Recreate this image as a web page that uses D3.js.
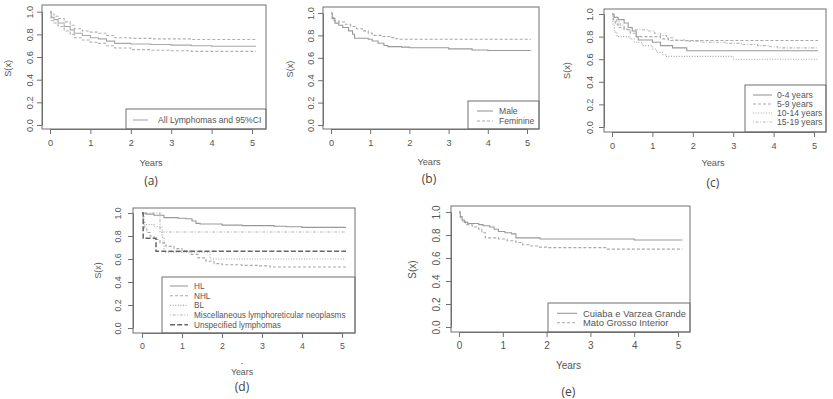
<!DOCTYPE html>
<html>
<head>
<meta charset="utf-8">
<script src="https://cdn.jsdelivr.net/npm/d3@7"></script>
<style>
  body { margin: 0; background: #fff; }
  svg { display: block; font-family: "Liberation Sans", Arial, sans-serif; }
</style>
</head>
<body>
<svg width="833" height="399"></svg>
<script>
// ---- data ----
const xTicks = [0, 1, 2, 3, 4, 5];
const yTicks = [0, 0.2, 0.4, 0.6, 0.8, 1.0];
const xLabel = 'Years';
const yLabel = 'S(x)';

// (a) all lymphomas with 95% CI
const allTime  = [0, 0.03, 0.1, 0.2, 0.35, 0.5, 0.6, 0.8, 1.0, 1.2, 1.4, 1.6, 2.0, 2.5, 3.0, 3.5, 4.0, 5.1];
const allSurv  = [1.0, 0.95, 0.93, 0.90, 0.87, 0.84, 0.81, 0.79, 0.77, 0.76, 0.74, 0.72, 0.715, 0.71, 0.705, 0.70, 0.695, 0.695];
const allUpper = [1.0, 0.98, 0.96, 0.94, 0.91, 0.88, 0.85, 0.83, 0.82, 0.81, 0.79, 0.77, 0.765, 0.76, 0.76, 0.755, 0.755, 0.755];
const allLower = [1.0, 0.92, 0.90, 0.87, 0.83, 0.80, 0.77, 0.75, 0.73, 0.72, 0.70, 0.68, 0.665, 0.66, 0.655, 0.65, 0.65, 0.65];

// (b) sex
const maleTime = [0, 0.03, 0.1, 0.2, 0.3, 0.45, 0.55, 0.6, 0.95, 1.05, 1.2, 1.35, 1.45, 1.8, 2.0, 3.0, 3.6, 4.0, 5.1];
const maleSurv = [1.0, 0.95, 0.91, 0.89, 0.87, 0.84, 0.81, 0.775, 0.765, 0.75, 0.73, 0.71, 0.70, 0.695, 0.69, 0.68, 0.67, 0.665, 0.665];
const femTime  = [0, 0.03, 0.08, 0.2, 0.35, 0.5, 0.65, 0.8, 0.95, 1.05, 1.3, 1.5, 1.65, 1.75, 5.1];
const femSurv  = [1.0, 0.96, 0.93, 0.92, 0.90, 0.88, 0.86, 0.84, 0.82, 0.80, 0.79, 0.78, 0.77, 0.765, 0.765];

// (c) age groups
const age04Time  = [0, 0.05, 0.15, 0.3, 0.4, 0.5, 0.6, 0.65, 1.0, 1.2, 1.5, 1.85, 5.1];
const age04Surv  = [1.0, 0.97, 0.95, 0.92, 0.88, 0.85, 0.80, 0.77, 0.75, 0.72, 0.70, 0.675, 0.675];
const age59Time  = [0, 0.03, 0.08, 0.15, 0.3, 0.45, 0.6, 1.2, 1.4, 5.1];
const age59Surv  = [1.0, 0.95, 0.91, 0.88, 0.86, 0.83, 0.80, 0.78, 0.765, 0.765];
const age1014Time = [0, 0.02, 0.06, 0.12, 0.45, 0.55, 0.75, 1.0, 1.1, 1.25, 1.35, 3.0, 5.1];
const age1014Surv = [1.0, 0.90, 0.84, 0.80, 0.78, 0.75, 0.72, 0.69, 0.66, 0.64, 0.625, 0.60, 0.60];
const age1519Time = [0, 0.05, 0.12, 0.2, 0.3, 0.4, 0.9, 1.05, 1.2, 1.35, 1.5, 1.8, 2.2, 2.8, 3.2, 3.6, 3.9, 4.1, 5.1];
const age1519Surv = [1.0, 0.97, 0.93, 0.90, 0.87, 0.86, 0.85, 0.83, 0.81, 0.79, 0.77, 0.76, 0.75, 0.74, 0.73, 0.72, 0.71, 0.70, 0.70];

// (d) diagnostic groups
const hlTime   = [0, 0.1, 0.3, 0.55, 0.9, 1.1, 1.25, 1.35, 1.45, 2.0, 2.5, 3.3, 3.6, 4.0, 5.1];
const hlSurv   = [1.0, 0.99, 0.98, 0.96, 0.955, 0.95, 0.93, 0.91, 0.905, 0.895, 0.89, 0.885, 0.88, 0.875, 0.875];
const nhlTime  = [0, 0.03, 0.07, 0.12, 0.2, 0.3, 0.45, 0.6, 0.8, 1.0, 1.2, 1.4, 1.6, 1.8, 2.0, 2.5, 2.9, 3.2, 5.1];
const nhlSurv  = [1.0, 0.92, 0.87, 0.83, 0.80, 0.77, 0.74, 0.71, 0.69, 0.67, 0.64, 0.61, 0.58, 0.56, 0.55, 0.545, 0.54, 0.53, 0.53];
const blTime   = [0, 0.05, 0.3, 0.5, 0.55, 1.7, 5.1];
const blSurv   = [1.0, 0.90, 0.88, 0.79, 0.66, 0.60, 0.60];
const miscTime = [0, 0.45, 5.1];
const miscSurv = [1.0, 0.835, 0.835];
const unspTime = [0, 0.03, 0.35, 5.1];
const unspSurv = [1.0, 0.78, 0.667, 0.667];

// (e) region
const cuiTime  = [0, 0.03, 0.07, 0.12, 0.2, 0.45, 0.55, 0.7, 0.8, 0.9, 1.05, 1.2, 1.3, 1.85, 4.0, 5.1];
const cuiSurv  = [1.0, 0.96, 0.93, 0.91, 0.90, 0.89, 0.88, 0.87, 0.85, 0.83, 0.82, 0.81, 0.775, 0.765, 0.757, 0.757];
const matoTime = [0, 0.03, 0.08, 0.15, 0.3, 0.45, 0.52, 0.6, 0.9, 1.1, 1.3, 1.45, 1.6, 1.8, 2.0, 3.35, 5.1];
const matoSurv = [1.0, 0.95, 0.92, 0.89, 0.87, 0.85, 0.82, 0.775, 0.765, 0.75, 0.735, 0.715, 0.705, 0.695, 0.69, 0.677, 0.677];

// ---- line styles (R lty 1..5) ----
const LTY = { solid: null, dashed: '3,2', dotted: '1,1.6', dotdash: '1,1.6,3,1.6', longdash: '5,2.2' };
const TEXT = '#555';
const AXIS = '#707070';

const panels = [
  { tag: '(a)', box: [42, 5, 266, 129], x0: 50, x5: 252, y0: 125, y1: 11.7, yOff: 12, yLabX: 8,
    tagY: 181, titleY: 163, font: 8.6,
    series: [
      { t: allTime, s: allSurv, lty: 'solid', col: '#a8a8a8' },
      { t: allTime, s: allUpper, lty: 'dashed', col: '#b0b0b0' },
      { t: allTime, s: allLower, lty: 'dashed', col: '#b0b0b0' }
    ],
    legend: { box: [126, 109, 266, 129], lx: [133, 148], tx: 158, rows: [120],
      items: [{ name: 'All Lymphomas and 95%CI', lty: 'solid', col: '#a8a8a8' }] } },
  { tag: '(b)', box: [323, 7, 539, 129], x0: 331, x5: 527, y0: 125, y1: 13, yOff: 12, yLabX: 290,
    tagY: 179, titleY: 162, font: 8.6,
    series: [
      { t: maleTime, s: maleSurv, lty: 'solid', col: '#999' },
      { t: femTime, s: femSurv, lty: 'dashed', col: '#a8a8a8' }
    ],
    legend: { box: [468, 101, 539, 129], lx: [477, 493], tx: 499, rows: [111, 121],
      items: [{ name: 'Male', lty: 'solid', col: '#999' }, { name: 'Feminine', lty: 'dashed', col: '#a8a8a8' }] } },
  { tag: '(c)', box: [604, 9, 826, 132], x0: 612, x5: 814, y0: 127, y1: 14, yOff: 14, yLabX: 567,
    tagY: 183, titleY: 163, font: 8.6,
    series: [
      { t: age04Time, s: age04Surv, lty: 'solid', col: '#999' },
      { t: age59Time, s: age59Surv, lty: 'dashed', col: '#a8a8a8' },
      { t: age1014Time, s: age1014Surv, lty: 'dotted', col: '#a8a8a8' },
      { t: age1519Time, s: age1519Surv, lty: 'dotdash', col: '#b5b5b5' }
    ],
    legend: { box: [745, 85, 826, 132], lx: [753, 772], tx: 777, rows: [95, 104, 113, 122],
      items: [{ name: '0-4 years', lty: 'solid', col: '#999' }, { name: '5-9 years', lty: 'dashed', col: '#a8a8a8' },
              { name: '10-14 years', lty: 'dotted', col: '#a8a8a8' }, { name: '15-19 years', lty: 'dotdash', col: '#b5b5b5' }] } },
  { tag: '(d)', box: [133, 208, 355, 333], x0: 142, x5: 342, y0: 328, y1: 213, yOff: 15, yLabX: 98,
    tagY: 387, titleY: 372, font: 8.2, dash: true,
    series: [
      { t: hlTime, s: hlSurv, lty: 'solid', col: '#999' },
      { t: nhlTime, s: nhlSurv, lty: 'dashed', col: '#a8a8a8' },
      { t: blTime, s: blSurv, lty: 'dotted', col: '#a8a8a8' },
      { t: miscTime, s: miscSurv, lty: 'dotdash', col: '#b5b5b5' },
      { t: unspTime, s: unspSurv, lty: 'longdash', col: '#666', w: 1.5 }
    ],
    legend: { box: [162, 277, 355, 333], lx: [170, 188], tx: 194, rows: [286, 295.7, 305.4, 315, 324.7],
      items: [{ name: 'HL', lty: 'solid', col: '#999' }, { name: 'NHL', lty: 'dashed', col: '#a8a8a8' },
              { name: 'BL', lty: 'dotted', col: '#a8a8a8' },
              { name: 'Miscellaneous lymphoreticular neoplasms', lty: 'dotdash', col: '#b5b5b5' },
              { name: 'Unspecified lymphomas', lty: 'longdash', col: '#666', w: 1.5 }] } },
  { tag: '(e)', box: [451, 206, 690, 332], x0: 459, x5: 678, y0: 327, y1: 212, yOff: 15, yLabX: 412,
    tagY: 392, titleY: 365, font: 9.4,
    series: [
      { t: cuiTime, s: cuiSurv, lty: 'solid', col: '#999' },
      { t: matoTime, s: matoSurv, lty: 'dashed', col: '#a8a8a8' }
    ],
    legend: { box: [548, 303, 690, 332], lx: [557, 577], tx: 583, rows: [313.3, 322.7],
      items: [{ name: 'Cuiaba e Varzea Grande', lty: 'solid', col: '#999' }, { name: 'Mato Grosso Interior', lty: 'dashed', col: '#a8a8a8' }] } }
];

const svg = d3.select('svg');
panels.forEach(drawPanel);

function drawPanel(p) {
  const g = svg.append('g');
  const x = d3.scaleLinear().domain([0, 5]).range([p.x0, p.x5]);
  const y = d3.scaleLinear().domain([0, 1]).range([p.y0, p.y1]);
  const [bx0, by0, bx1, by1] = p.box;

  const line = d3.line()
    .x(d => x(d[0]))
    .y(d => y(d[1]))
    .curve(d3.curveStepAfter);

  // survival curves
  p.series.forEach(s => {
    g.append('path')
      .datum(d3.zip(s.t, s.s))
      .attr('d', line)
      .attr('fill', 'none')
      .attr('stroke', s.col)
      .attr('stroke-width', s.w || 1.1)
      .attr('stroke-dasharray', LTY[s.lty]);
  });

  // legend (bottom right, drawn over the curves)
  const lg = p.legend;
  g.append('rect')
    .attr('x', lg.box[0]).attr('y', lg.box[1])
    .attr('width', lg.box[2] - lg.box[0]).attr('height', lg.box[3] - lg.box[1])
    .attr('fill', '#fff').attr('stroke', AXIS);
  lg.items.forEach((it, i) => {
    g.append('line')
      .attr('x1', lg.lx[0]).attr('x2', lg.lx[1])
      .attr('y1', lg.rows[i]).attr('y2', lg.rows[i])
      .attr('stroke', it.col).attr('stroke-width', it.w || 1.1)
      .attr('stroke-dasharray', LTY[it.lty]);
    g.append('text')
      .attr('x', lg.tx).attr('y', lg.rows[i])
      .attr('dy', '0.35em')
      .attr('font-size', p.font)
      .attr('fill', TEXT)
      .text(it.name);
  });

  // plot box
  g.append('rect')
    .attr('x', bx0).attr('y', by0)
    .attr('width', bx1 - bx0).attr('height', by1 - by0)
    .attr('fill', 'none').attr('stroke', AXIS);

  // x axis
  const xa = g.append('g')
    .attr('transform', 'translate(0,' + by1 + ')')
    .call(d3.axisBottom(x).tickValues(xTicks).tickFormat(d3.format('d')).tickSize(5).tickSizeOuter(0).tickPadding(5));
  // y axis, labels turned like R's las=0
  const ya = g.append('g')
    .attr('transform', 'translate(' + bx0 + ',0)')
    .call(d3.axisLeft(y).tickValues(yTicks).tickFormat(d3.format('.1f')).tickSize(5).tickSizeOuter(0));
  ya.selectAll('text')
    .attr('transform', 'rotate(-90)')
    .attr('x', 0)
    .attr('y', -p.yOff)
    .attr('dy', '0.35em')
    .attr('text-anchor', 'middle');

  [xa, ya].forEach(a => {
    a.select('.domain').attr('stroke', AXIS);
    a.selectAll('.tick line').attr('stroke', AXIS);
    a.selectAll('text')
      .attr('fill', TEXT)
      .attr('font-size', p.font + 0.6)
      .attr('font-family', '"Liberation Sans", Arial, sans-serif');
  });

  // axis titles
  const midX = (p.x0 + p.x5) / 2;
  g.append('text')
    .attr('x', midX).attr('y', p.titleY)
    .attr('dy', '0.35em')
    .attr('text-anchor', 'middle')
    .attr('font-size', p.font + 0.6)
    .attr('fill', TEXT)
    .text(xLabel);
  if (p.dash) {
    g.append('text')
      .attr('x', midX).attr('y', p.titleY - 9)
      .attr('dy', '0.35em')
      .attr('text-anchor', 'middle')
      .attr('font-size', 7)
      .attr('fill', TEXT)
      .text('-');
  }
  g.append('text')
    .attr('transform', 'translate(' + p.yLabX + ',' + ((p.y0 + p.y1) / 2) + ') rotate(-90)')
    .attr('dy', '0.35em')
    .attr('text-anchor', 'middle')
    .attr('font-size', p.font + 0.6)
    .attr('fill', TEXT)
    .text(yLabel);

  // panel tag
  g.append('text')
    .attr('x', midX).attr('y', p.tagY)
    .attr('dy', '0.35em')
    .attr('text-anchor', 'middle')
    .attr('font-family', '"Open Sans", "Noto Sans", sans-serif')
    .attr('font-size', 12)
    .attr('fill', '#444')
    .text(p.tag);
}
</script>
</body>
</html>
